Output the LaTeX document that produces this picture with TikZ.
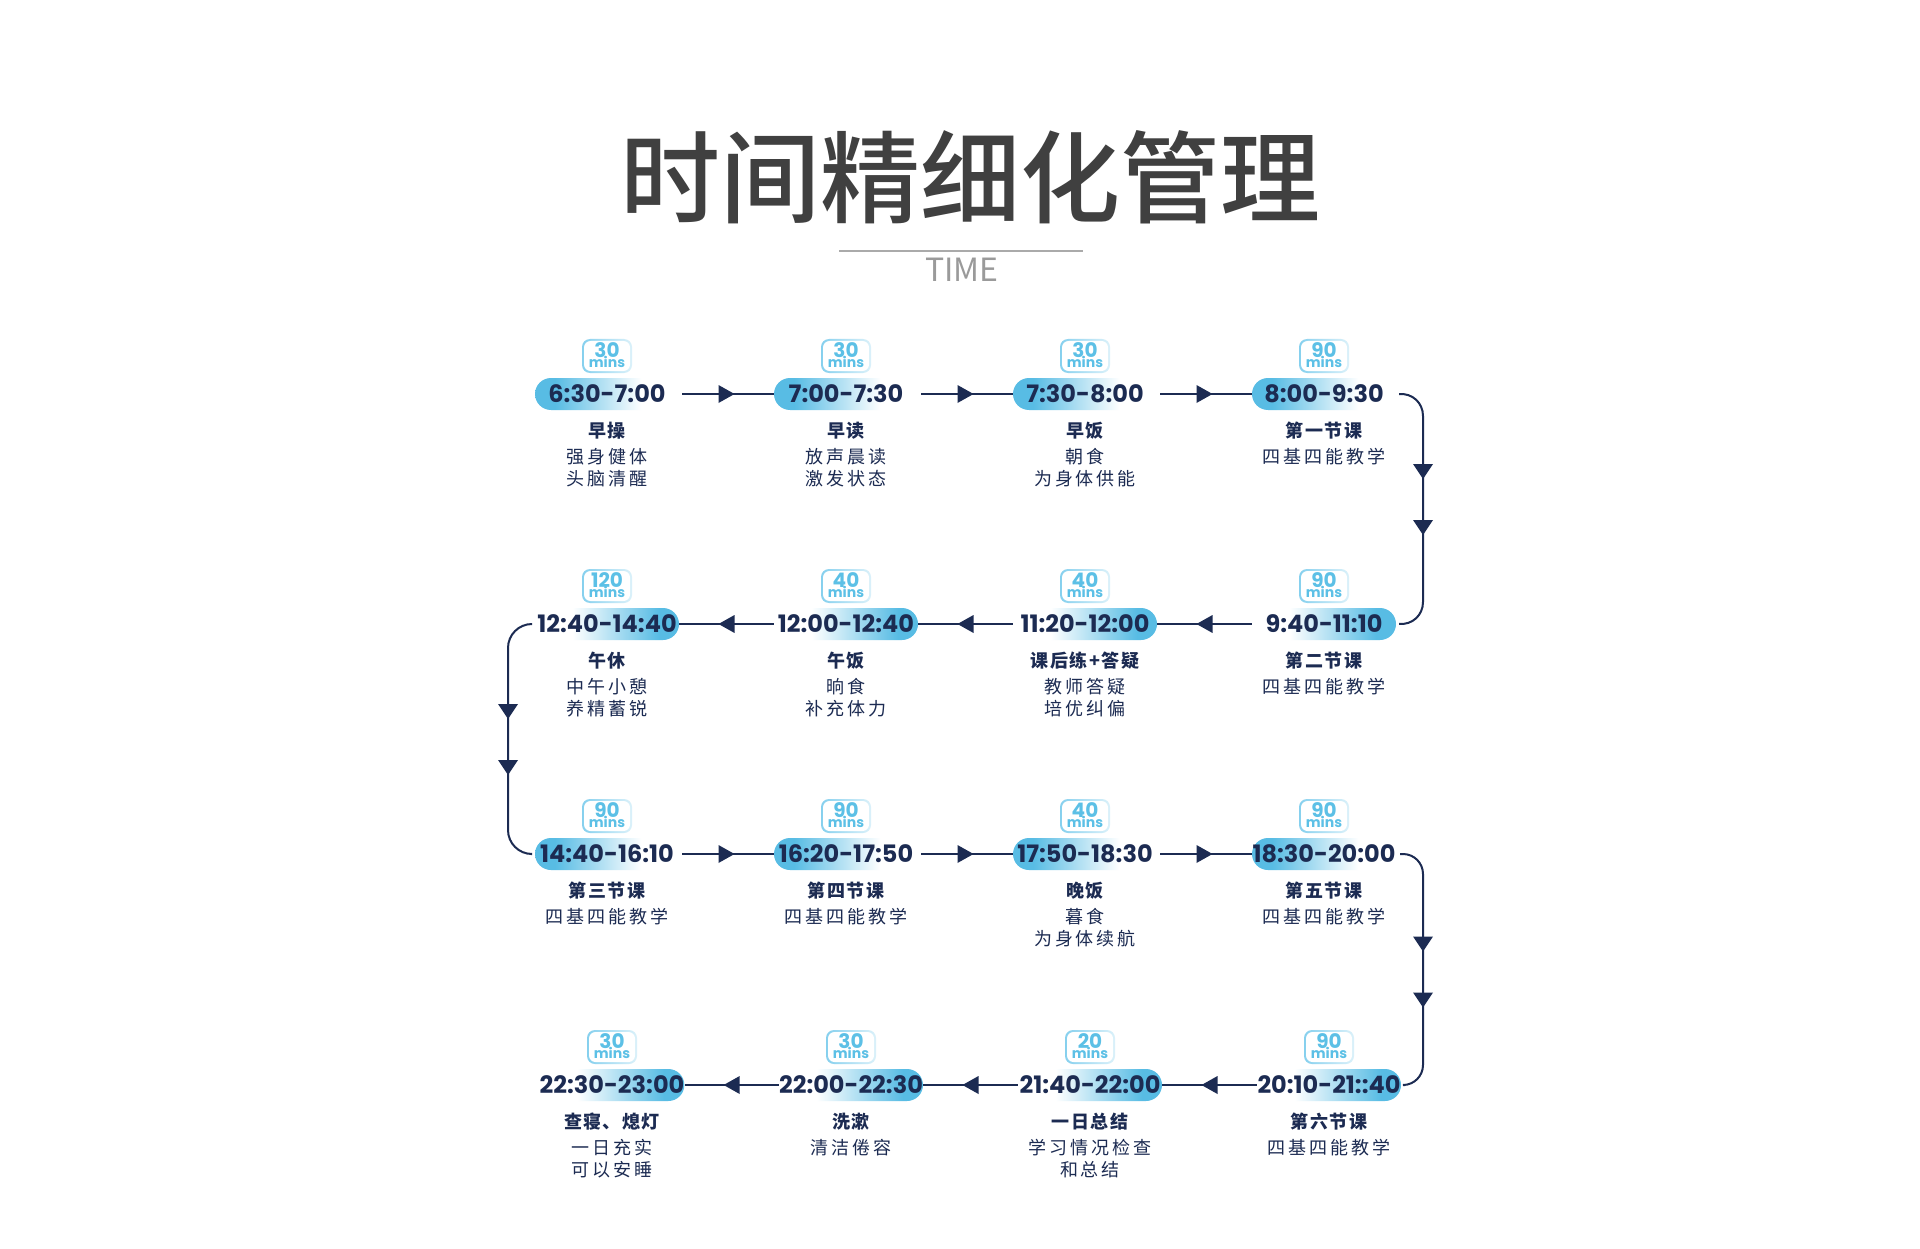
\documentclass[tikz,border=0pt]{standalone}
\usepackage{fontspec}
\usetikzlibrary{arrows.meta,decorations.markings}
\newfontfamily\cjk{Noto Sans CJK SC}
\IfFontExistsTF{Noto Sans CJK SC Medium}{\newfontfamily\cjkt{Noto Sans CJK SC Medium}}{\newfontfamily\cjkt{Noto Sans CJK SC}[FakeBold=2]}
\newfontfamily\cjksp{Noto Sans CJK SC}[LetterSpace=16]
\newfontfamily\cjkbsp{Noto Sans CJK SC}[LetterSpace=8]
\newfontfamily\pop{Poppins}
\definecolor{navy}{HTML}{1C2B52}
\definecolor{pc}{HTML}{58BCE4}
\definecolor{mc}{HTML}{5CC0E6}
\definecolor{bc}{HTML}{86D0EE}
\colorlet{bcl}{white!70!bc}
\definecolor{tgray}{HTML}{404040}
\definecolor{sgray}{HTML}{9A9A9A}
\definecolor{lgray}{HTML}{AAAAAA}
\pgfdeclarehorizontalshading{pillLR}{100bp}{color(0bp)=(pc); color(25bp)=(pc); color(32bp)=(pc); color(62bp)=(white); color(100bp)=(white)}
\pgfdeclarehorizontalshading{pillRL}{100bp}{color(0bp)=(white); color(38bp)=(white); color(68bp)=(pc); color(75bp)=(pc); color(100bp)=(pc)}
\pgfdeclarehorizontalshading{boxsh}{100bp}{color(0bp)=(bc); color(25bp)=(bc); color(75bp)=(bcl); color(100bp)=(bcl)}
\tikzset{
  pill/.style={shade, rounded corners=16pt, minimum width=144pt, minimum height=32pt, inner sep=0pt,
    font=\pop\bfseries\fontsize{24}{24}\selectfont, text=navy, text height=17pt, text depth=0pt},
  minsout/.style={shade, shading=boxsh, rounded corners=8pt, minimum width=50pt, minimum height=34pt, inner sep=0pt},
  minsin/.style={fill=white, rounded corners=6.5pt, minimum width=46pt, minimum height=30pt, inner sep=0pt},
  minsnum/.style={anchor=base, inner sep=0pt, text=mc, text height=14pt, text depth=0pt, font=\pop\bfseries\fontsize{20}{20}\selectfont},
  minslab/.style={anchor=base, inner sep=0pt, text=mc, text height=8pt, text depth=0pt, font=\pop\bfseries\fontsize{14}{14}\selectfont},
  dtitle/.style={anchor=base, inner sep=0pt, text=navy, text height=15pt, text depth=2pt, font=\cjkbsp\bfseries\fontsize{18}{18}\selectfont},
  dline/.style={anchor=base, inner sep=0pt, text=navy, text height=15pt, text depth=2pt, font=\cjksp\fontsize{18}{18}\selectfont},
  conn/.style={draw=navy, line width=2pt},
  arrmid/.style={postaction={decorate}, decoration={markings, mark=at position 0.5 with {\fill[navy] (8pt,0pt) -- (-8pt,9pt) -- (-8pt,-9pt) -- cycle;}}},
  arrtwo/.style={postaction={decorate}, decoration={markings, mark=at position 0.5 with {%
    \fill[navy] ({#1-20pt},0pt) -- ({#1-35pt},10pt) -- ({#1-35pt},-10pt) -- cycle;
    \fill[navy] ({#1+36pt},0pt) -- ({#1+21pt},10pt) -- ({#1+21pt},-10pt) -- cycle;}}}
}
\newcommand\tstep[9]{%
  \node[minsout] (#1m) at (#2,#3-38) {};
  \node[minsin] (#1n) at (#1m) {};
  \node[minsnum] (#1u) at (#2,#3-37) {#5};
  \node[minslab] (#1v) at (#2,#3-26.5) {mins};
  \node[pill, shading=#6] (#1) at (#2,#3) {#4};
  \node[dtitle] (#1t) at (#2,#3+43) {#7};
  \node[dline] (#1x) at (#2,#3+69) {#8};
  \node[dline] (#1y) at (#2,#3+91.5) {#9};
}
\begin{document}
\begin{tikzpicture}[x=1pt,y=-1pt]
\useasboundingbox (0,0) rectangle (1920,1249);
\fill[white] (0,0) rectangle (1920,1249);
% title
\node[anchor=base, inner sep=0pt, text=tgray, font=\cjkt\fontsize{100}{100}\selectfont] (title) at (970,216) {时间精细化管理};
\coordinate (l1) at (839,251);
\coordinate (l2) at (1083,251);
\draw[lgray, line width=1.5pt] (l1) -- (l2);
\node[anchor=base, inner sep=0pt, text=sgray, font=\cjk\fontsize{32}{32}\selectfont] (sub) at (962,282) {TIME};
% row 1
\tstep{a1}{607}{394}{6:30-7:00}{30}{pillLR}{早操}{强身健体}{头脑清醒}
\tstep{a2}{846}{394}{7:00-7:30}{30}{pillLR}{早读}{放声晨读}{激发状态}
\tstep{a3}{1085}{394}{7:30-8:00}{30}{pillLR}{早饭}{朝食}{为身体供能}
\tstep{a4}{1324}{394}{8:00-9:30}{90}{pillLR}{第一节课}{四基四能教学}{}
% row 2
\tstep{b4}{1324}{624}{9:40-11:10}{90}{pillRL}{第二节课}{四基四能教学}{}
\tstep{b3}{1085}{624}{11:20-12:00}{40}{pillRL}{课后练+答疑}{教师答疑}{培优纠偏}
\tstep{b2}{846}{624}{12:00-12:40}{40}{pillRL}{午饭}{晌食}{补充体力}
\tstep{b1}{607}{624}{12:40-14:40}{120}{pillRL}{午休}{中午小憩}{养精蓄锐}
% row 3
\tstep{c1}{607}{854}{14:40-16:10}{90}{pillLR}{第三节课}{四基四能教学}{}
\tstep{c2}{846}{854}{16:20-17:50}{90}{pillLR}{第四节课}{四基四能教学}{}
\tstep{c3}{1085}{854}{17:50-18:30}{40}{pillLR}{晚饭}{暮食}{为身体续航}
\tstep{c4}{1324}{854}{18:30-20:00}{90}{pillLR}{第五节课}{四基四能教学}{}
% row 4
\tstep{d4}{1329}{1085}{20:10-21::40}{90}{pillRL}{第六节课}{四基四能教学}{}
\tstep{d3}{1090}{1085}{21:40-22:00}{20}{pillRL}{一日总结}{学习情况检查}{和总结}
\tstep{d2}{851}{1085}{22:00-22:30}{30}{pillRL}{洗漱}{清洁倦容}{}
\tstep{d1}{612}{1085}{22:30-23:00}{30}{pillRL}{查寝、熄灯}{一日充实}{可以安睡}
% horizontal connectors
\draw[conn, arrmid, shorten <=3pt] (a1.east) -- (a2.west);
\draw[conn, arrmid, shorten <=3pt] (a2.east) -- (a3.west);
\draw[conn, arrmid, shorten <=3pt] (a3.east) -- (a4.west);
\draw[conn, arrmid] (b4.west) -- (b3.east);
\draw[conn, arrmid] (b3.west) -- (b2.east);
\draw[conn, arrmid] (b2.west) -- (b1.east);
\draw[conn, arrmid, shorten <=3pt] (c1.east) -- (c2.west);
\draw[conn, arrmid, shorten <=3pt] (c2.east) -- (c3.west);
\draw[conn, arrmid, shorten <=3pt] (c3.east) -- (c4.west);
\draw[conn, arrmid] (d4.west) -- (d3.east);
\draw[conn, arrmid] (d3.west) -- (d2.east);
\draw[conn, arrmid] (d2.west) -- (d1.east);
% turn connectors
\coordinate (ka) at (1423,392);
\coordinate (kb) at (1423,626);
\draw[conn, rounded corners=24pt] ([xshift=4pt]a4.east) -- (ka) -- (kb) -- ([xshift=4pt]b4.east);
\path[arrtwo=-10pt] (ka) -- (kb);
\coordinate (kc) at (508,624);
\coordinate (kd) at (508,854);
\draw[conn, rounded corners=24pt] ([xshift=-4pt]b1.west) -- (kc) -- (kd) -- ([xshift=-4pt]c1.west);
\path[arrtwo=0pt] (kc) -- (kd);
\coordinate (ke) at (1423,854);
\coordinate (kf) at (1423,1085);
\draw[conn, rounded corners=20pt] ([xshift=4pt]c4.east) -- (ke) -- (kf) -- ([xshift=4pt]d4.east);
\path[arrtwo=2pt] (ke) -- (kf);
\end{tikzpicture}
\end{document}
